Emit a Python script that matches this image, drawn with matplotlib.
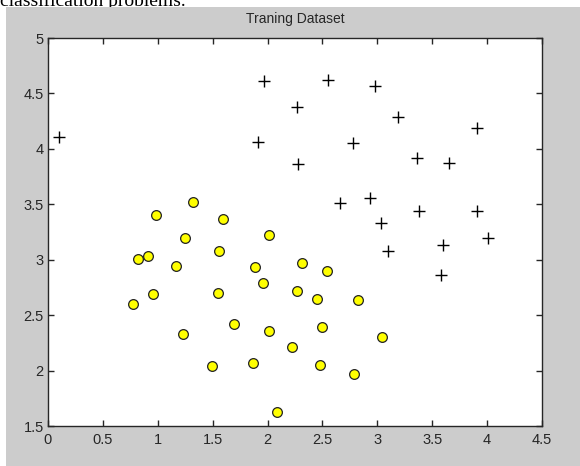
import matplotlib
matplotlib.use("Agg")
import matplotlib.pyplot as plt
from matplotlib.patches import Rectangle
from matplotlib.ticker import FuncFormatter

# Class 1 (plus markers)
pos_x = [0.10, 1.97, 2.55, 2.98, 2.27, 3.19, 1.91, 2.78, 3.91, 2.28, 3.36,
         3.65, 2.66, 2.93, 3.38, 3.91, 3.03, 3.10, 3.60, 4.01, 3.58]
pos_y = [4.11, 4.61, 4.62, 4.57, 4.38, 4.29, 4.06, 4.05, 4.19, 3.86, 3.92,
         3.87, 3.51, 3.56, 3.44, 3.44, 3.33, 3.08, 3.13, 3.20, 2.86]

# Class 2 (yellow circles)
neg_x = [0.77, 0.82, 0.91, 0.96, 0.98, 1.17, 1.23, 1.25, 1.32, 1.49, 1.55,
         1.56, 1.59, 1.69, 1.87, 1.89, 1.96, 2.01, 2.01, 2.09, 2.22, 2.27,
         2.31, 2.45, 2.48, 2.50, 2.54, 2.79, 2.82, 3.04]
neg_y = [2.60, 3.01, 3.03, 2.69, 3.40, 2.94, 2.33, 3.20, 3.52, 2.04, 2.70,
         3.08, 3.37, 2.42, 2.07, 2.93, 2.79, 2.36, 3.22, 1.63, 2.21, 2.72,
         2.97, 2.65, 2.05, 2.39, 2.90, 1.97, 2.64, 2.30]

title = "Traning Dataset"
x_ticks = [0, 0.5, 1, 1.5, 2, 2.5, 3, 3.5, 4, 4.5]
y_ticks = [1.5, 2, 2.5, 3, 3.5, 4, 4.5, 5]

W, H = 580, 466
plt.rcParams['font.family'] = ['Liberation Sans', 'DejaVu Sans']
fig = plt.figure(figsize=(W / 100, H / 100), dpi=100, facecolor="white")

# cut-off document text above the figure
fig.text(0 / W, 1 - 5.5 / H, "classification problems.", fontsize=14,
         family="Liberation Serif", color="black", va="baseline", ha="left",
         zorder=-3)
# grey MATLAB figure panel
fig.patches.append(Rectangle((6 / W, 0), 1 - 6 / W, 1 - 7 / H,
                             transform=fig.transFigure, facecolor="#cccccc",
                             edgecolor="none", zorder=-2))

ax = fig.add_axes([48 / W, 1 - 426 / H, 494 / W, 388 / H])
ax.set_facecolor("white")
ax.plot(pos_x, pos_y, linestyle="none", marker="+", markersize=8,
        markeredgewidth=1.0, color="black")
ax.plot(neg_x, neg_y, linestyle="none", marker="o", markersize=7,
        markerfacecolor="yellow", markeredgecolor="#222222",
        markeredgewidth=0.9)

ax.set_xlim(0, 4.5)
ax.set_ylim(1.5, 5)
ax.set_xticks(x_ticks)
ax.set_yticks(y_ticks)
fmt = FuncFormatter(lambda v, p: "%g" % v)
ax.xaxis.set_major_formatter(fmt)
ax.yaxis.set_major_formatter(fmt)
ax.tick_params(direction="in", top=True, right=True, length=4, width=1,
               labelsize=10.5, colors="#262626")
ax.tick_params(axis="x", pad=5)
ax.tick_params(axis="y", pad=3)
for s in ax.spines.values():
    s.set_color("#262626")
    s.set_linewidth(1)
ax.set_title(title, fontsize=10, color="#262626", pad=11)

fig.savefig("out.png", dpi=100, facecolor="white")
